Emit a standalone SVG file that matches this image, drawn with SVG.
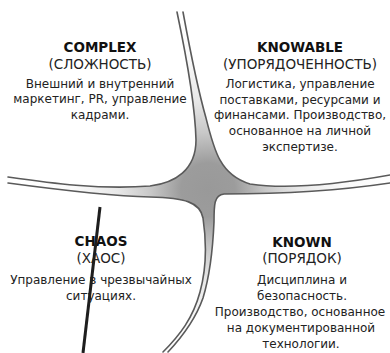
<svg xmlns="http://www.w3.org/2000/svg" width="390" height="353" viewBox="0 0 390 353">
<style>
text{font-family:"DejaVu Sans",Verdana,sans-serif;text-anchor:middle;fill:#222}
.t{font-weight:bold;font-size:13.5px;fill:#111}
.s{font-size:13.5px;fill:#222}
.b{font-size:12px}
.edge{fill:none;stroke:#5a5a5a;stroke-width:1.6;stroke-linecap:round}
</style>
<defs>
<radialGradient id="g" gradientUnits="userSpaceOnUse" cx="208" cy="190" r="180">
<stop offset="0" stop-color="#999999"/>
<stop offset="0.15" stop-color="#9c9c9c"/>
<stop offset="0.32" stop-color="#c8c8c8"/>
<stop offset="0.5" stop-color="#e8e8e8"/>
<stop offset="0.75" stop-color="#fafafa"/>
<stop offset="1" stop-color="#ffffff"/>
</radialGradient>
</defs>
<rect width="390" height="353" fill="#fff"/>
<g id="axes">
<path fill="url(#g)" d="M177,12 C185,50 195,100 196,140 C196,170 175,183 150,186 C100,190 50,183 8,177 L8,183 C60,190 110,196 150,197 C185,198 200,202 203,218 C207,245 206,270 200,292 C193,318 180,335 163,352 L168,352 C183,336 196,318 203,298 C210,275 213,245 214,222 C214,205 214,195 224,194 C260,194 330,192 390,183 L390,175 C340,184 290,190 250,184 C220,175 214,150 206,118 C198,90 190,50 183,12 Z"/>
<path class="edge" d="M177,12 C185,50 195,100 196,140 C196,170 175,183 150,186 C100,190 50,183 8,177"/>
<path class="edge" d="M183,12 C190,50 198,90 206,118 C214,150 220,175 250,184 C290,190 340,184 390,175"/>
<path class="edge" d="M8,183 C60,190 110,196 150,197 C185,198 200,202 203,218 C207,245 206,270 200,292 C193,318 180,335 163,352"/>
<path class="edge" d="M168,352 C183,336 196,318 203,298 C210,275 213,245 214,222 C214,205 214,195 224,194 C260,194 330,192 390,183"/>
</g>
<g id="complex">
<text class="t" x="100" y="52">COMPLEX</text>
<text class="s" x="100" y="69">(СЛОЖНОСТЬ)</text>
<text class="b" x="100" y="88">Внешний и внутренний</text>
<text class="b" x="100" y="103">маркетинг, PR, управление</text>
<text class="b" x="100" y="119">кадрами.</text>
</g>
<g id="knowable">
<text class="t" x="300" y="52">KNOWABLE</text>
<text class="s" x="300" y="69">(УПОРЯДОЧЕННОСТЬ)</text>
<text class="b" x="300" y="88">Логистика, управление</text>
<text class="b" x="300" y="104">поставками, ресурсами и</text>
<text class="b" x="300" y="119">финансами. Производство,</text>
<text class="b" x="300" y="135">основанное на личной</text>
<text class="b" x="300" y="151">экспертизе.</text>
</g>
<g id="chaos">
<text class="t" x="101" y="246">CHAOS</text>
<text class="s" x="101" y="263">(ХАОС)</text>
<text class="b" x="101" y="284">Управление в чрезвычайных</text>
<text class="b" x="101" y="300">ситуациях.</text>
</g>
<g id="known">
<text class="t" x="302" y="247">KNOWN</text>
<text class="s" x="302" y="263">(ПОРЯДОК)</text>
<text class="b" x="302" y="284">Дисциплина и</text>
<text class="b" x="302" y="300">безопасность.</text>
<text class="b" x="300" y="316">Производство, основанное</text>
<text class="b" x="301" y="332">на документированной</text>
<text class="b" x="301" y="348">технологии.</text>
</g>
<g id="connectors">
<line x1="100" y1="207" x2="83" y2="353" stroke="#1e1e1e" stroke-width="3"/>
</g>
</svg>
